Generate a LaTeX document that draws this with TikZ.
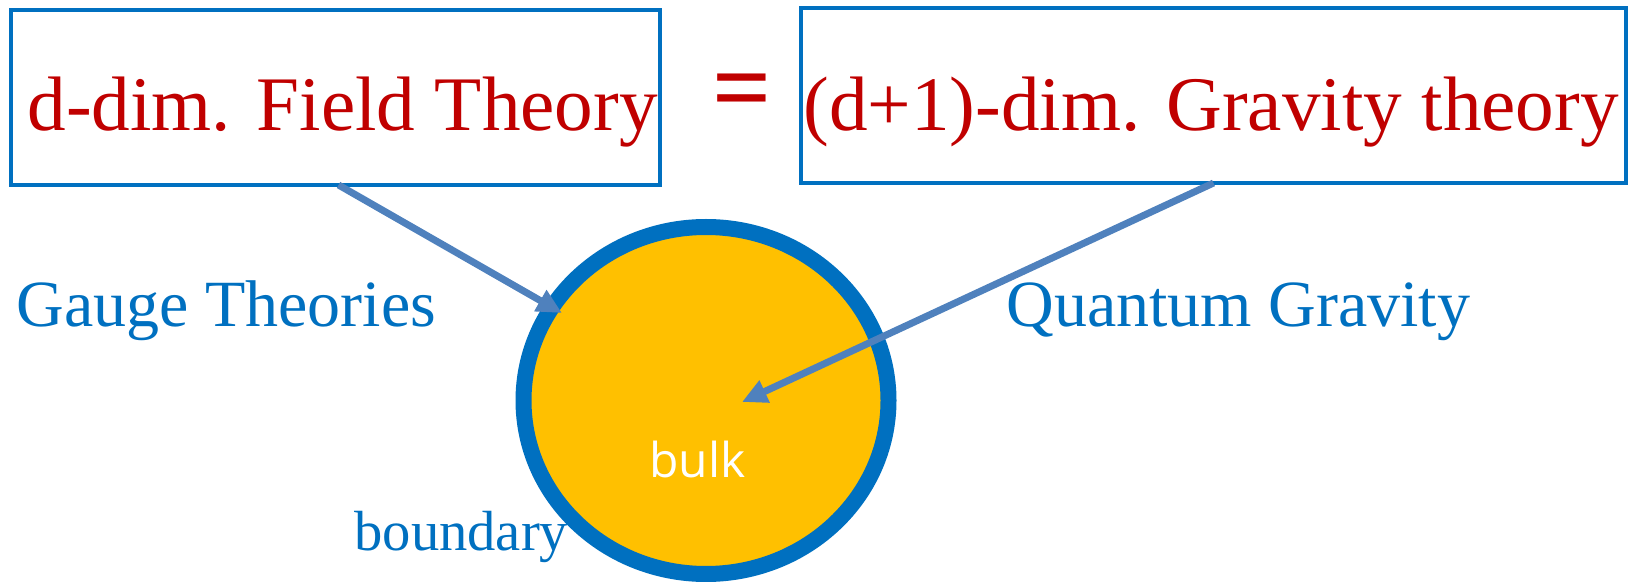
\documentclass[tikz,border=0pt]{standalone}
\usepackage{fontspec}
\setmainfont{Liberation Serif}
\newfontfamily\bulkfont{Open Sans}
\usepackage{xcolor}
\usepackage{tikz}
\usetikzlibrary{calc,positioning,shapes.geometric,arrows.meta}

\definecolor{frameblue}{HTML}{0070C0}
\definecolor{titlered}{HTML}{C00000}
\definecolor{bulkgold}{HTML}{FFC000}
\definecolor{pointerblue}{HTML}{4F81BD}

\tikzset{
    theorybox/.style={draw=frameblue, line width=2pt, minimum height=87.5pt,
        inner sep=0pt, outer sep=0pt},
    theorytext/.style={text=titlered, font=\fontsize{38.6}{44}\selectfont,
        anchor=base west, inner sep=0pt},
    sidelabel/.style={text=frameblue, font=\fontsize{33}{38}\selectfont,
        anchor=base west, inner sep=0pt},
    pointer/.style={pointerblue, line width=3.5pt,
        -{Triangle[length=12.5pt,width=11.5pt]}}
}

\begin{document}
\begin{tikzpicture}[x=0.5pt,y=-0.5pt]
        \useasboundingbox (0,0) rectangle (1638,582);
        \node[theorybox, minimum width=324.5pt] (ftbox) at (335.5,97.5) {};
        \node[theorybox, minimum width=412.5pt] (grbox) at (1213.5,95.5) {};
        \node[theorytext] (fttext) at (27,131) {d-dim. Field Theory};
        \node[theorytext] (grtext) at (803,131) {(d+1)-dim. Gravity theory};
        \node[
            text=titlered,
            font=\bfseries\fontsize{52}{56}\selectfont,
            inner sep=0pt,
            anchor=base
        ] (equals) at (742,123) {=};
        \node[
            ellipse,
            draw=frameblue,
            fill=bulkgold,
            line width=8pt,
            minimum width=182.5pt,
            minimum height=173.5pt,
            inner sep=0pt
        ] (bulk) at (706,400.5) {};
        \node[
            text=white,
            font=\bulkfont\fontsize{24}{28}\selectfont,
            anchor=base west,
            inner sep=0pt
        ] (bulktext) at (649,478) {bulk};
        \node[sidelabel] (gauge) at (16,327) {Gauge Theories};
        \node[sidelabel] (quantum) at (1006,327) {Quantum Gravity};
        \node[sidelabel, font=\fontsize{28.3}{32}\selectfont] (boundary) at (354,550) {boundary};
        \coordinate (gaugetip) at (562,313);
        \coordinate (gravitytip) at (742,402);
        \draw[pointer] ($(ftbox.south)+(3,0)$) -- (gaugetip);
        \draw[pointer] (grbox.south) -- (gravitytip);
    \end{tikzpicture}
\end{document}
